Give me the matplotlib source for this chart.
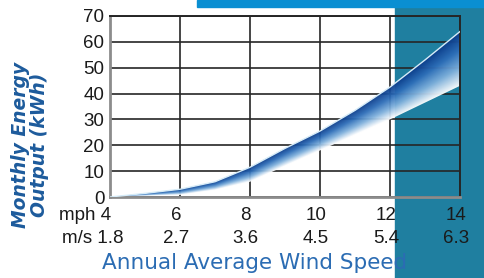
import matplotlib
matplotlib.use("Agg")
import matplotlib.pyplot as plt
import numpy as np
from matplotlib.colors import LinearSegmentedColormap
from matplotlib.patches import Rectangle

# wind speed (mph) and monthly energy band (kWh)
speed_mph = [4, 5, 6, 7, 8, 9, 10, 11, 12, 13, 14]
energy_high = [0, 1.4, 3.0, 5.9, 11.5, 18.8, 25.5, 33.5, 42.5, 53, 64]
energy_low = [0, 0.4, 0.8, 2.7, 5.9, 12.0, 18.0, 24, 30, 36.5, 43]

tick_mph = [4, 6, 8, 10, 12, 14]
tick_ms = ["1.8", "2.7", "3.6", "4.5", "5.4", "6.3"]
y_ticks = [0, 10, 20, 30, 40, 50, 60, 70]

TEAL = "#1f7fa0"
BAR = "#0a8fd2"
NAVY = "#1d5b9c"
LAB_FONT = ["Liberation Sans", "DejaVu Sans"]

fig = plt.figure(figsize=(4.85, 2.78), dpi=100)
fig.patch.set_facecolor("white")

# background panels
fig.patches.append(Rectangle((395 / 485, 0), 90 / 485, 1 - 7 / 278,
                             transform=fig.transFigure, color=TEAL, zorder=-2))
fig.patches.append(Rectangle((197 / 485, 1 - 7 / 278), 288 / 485, 7 / 278,
                             transform=fig.transFigure, color=BAR, zorder=-2))

ax = fig.add_axes([110 / 485, 81 / 278, 350 / 485, 181 / 278])
ax.set_zorder(1)
ax.set_facecolor("none")
ax.set_xlim(4, 14)
ax.set_ylim(0, 70)

ax.set_xticks(tick_mph)
ax.set_yticks(y_ticks)
ax.grid(True, color="#262626", lw=1.2, zorder=1)
ax.set_axisbelow(True)
ax.tick_params(length=0, labelbottom=False)
ax.set_yticklabels([str(v) for v in y_ticks], fontsize=13.5,
                   family=LAB_FONT, color="#1a1a1a")
ax.tick_params(axis="y", pad=4)

for side in ["top", "right"]:
    ax.spines[side].set_color("#262626")
    ax.spines[side].set_linewidth(1.4)
for side in ["left", "bottom"]:
    ax.spines[side].set_color("#8c8c8c")
    ax.spines[side].set_linewidth(2)

# gradient band
poly = ax.fill_between(speed_mph, energy_low, energy_high, facecolor="none",
                       edgecolor="none", zorder=2)
xx = np.linspace(4, 14, 500)
yy = np.linspace(0, 70, 400)
lo = np.interp(xx, speed_mph, energy_low)
hi = np.interp(xx, speed_mph, energy_high)
t = (yy[:, None] - lo[None, :]) / np.maximum(hi - lo, 1e-6)[None, :]
t = np.clip(t, 0, 1)
cmap = LinearSegmentedColormap.from_list(
    "band", ["#ffffff", "#7fb0dc", "#2d6db8", "#0b3b8a"])
im = ax.imshow(t, cmap=cmap, extent=[4, 14, 0, 70], origin="lower",
               aspect="auto", zorder=2, alpha=0.95, interpolation="bilinear")
im.set_clip_path(poly.get_paths()[0], transform=ax.transData)
ax.plot(speed_mph, energy_high, color="#d6ecf8", lw=1.0, zorder=3)

# x tick labels, two rows
xt = ax.get_xaxis_transform()
for i, (m, s) in enumerate(zip(tick_mph, tick_ms)):
    if i == 0:
        ax.text(m + 0.02, -0.10, "mph " + str(m), transform=xt, ha="right",
                va="center", fontsize=13.5, family=LAB_FONT, color="#1a1a1a")
        ax.text(m + 0.38, -0.23, "m/s " + s, transform=xt, ha="right",
                va="center", fontsize=13.5, family=LAB_FONT, color="#1a1a1a")
    else:
        ax.text(m - 0.12, -0.10, str(m), transform=xt, ha="center",
                va="center", fontsize=13.5, family=LAB_FONT, color="#1a1a1a")
        ax.text(m - 0.12, -0.23, s, transform=xt, ha="center",
                va="center", fontsize=13.5, family=LAB_FONT, color="#1a1a1a")

fig.text(255 / 485, 1 - 263 / 278, "Annual Average Wind Speed", ha="center",
         va="center", fontsize=15.5, color="#2b6cb3", family="DejaVu Sans")

fig.text(30 / 485, 1 - 145 / 278, "Monthly Energy\nOutput (kWh)", rotation=90,
         ha="center", va="center", fontsize=13.5, fontweight="heavy", style="italic",
         color=NAVY, family="DejaVu Sans", linespacing=0.95, multialignment="center")

fig.savefig("out.png", dpi=100)
